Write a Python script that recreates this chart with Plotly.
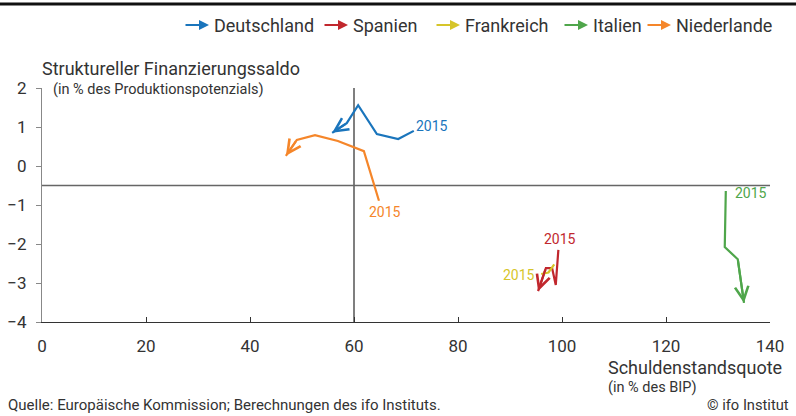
import plotly.graph_objects as go

# ---- data (debt ratio in % of GDP, structural balance in % of potential output) ----
countries = ["Deutschland", "Spanien", "Frankreich", "Italien", "Niederlande"]
colors = ["#1a75bc", "#c1272d", "#d6c52a", "#4fa64b", "#f5862a"]

de_x = [71.5, 68.5, 64.4, 60.8, 58.6, 55.8]
de_y = [0.90, 0.69, 0.82, 1.56, 1.10, 0.85]

es_x = [99.3, 98.8, 98.1, 96.9, 95.4]
es_y = [-2.15, -3.05, -2.62, -2.62, -3.21]

fr_x = [96.0, 97.4, 98.0, 98.5]
fr_y = [-2.77, -2.73, -2.62, -2.52]

it_x = [131.5, 131.3, 133.8, 135.0]
it_y = [-0.64, -2.08, -2.39, -3.51]

nl_x = [64.8, 61.9, 56.9, 52.5, 49.0, 46.9]
nl_y = [-0.89, 0.38, 0.64, 0.79, 0.67, 0.26]

series_x = [de_x, es_x, fr_x, it_x, nl_x]
series_y = [de_y, es_y, fr_y, it_y, nl_y]
start_label = "2015"

x_ticks = [0, 20, 40, 60, 80, 100, 120, 140]
y_ticks = [2, 1, 0, -1, -2, -3, -4]
debt_ref = 60
balance_ref = -0.5

FONT = "Source Sans Pro, Liberation Sans Narrow, Roboto, sans-serif"

fig = go.Figure()
annotations = []

# label offsets for the "2015" text at the first point of each series
lab = [
    dict(xanchor="left", xshift=0, yshift=5),
    dict(xanchor="center", xshift=2, yshift=11),
    dict(xanchor="right", xshift=-4, yshift=-1),
    dict(xanchor="left", xshift=7, yshift=-2),
    dict(xanchor="center", xshift=6, yshift=-11),
]

for name, col, xs, ys, lb in zip(countries, colors, series_x, series_y, lab):
    fig.add_trace(go.Scatter(x=xs, y=ys, mode="lines", name=name,
                             line=dict(color=col, width=2.2), showlegend=False,
                             hoverinfo="skip"))
    # arrow head at the last point
    annotations.append(dict(x=xs[-1], y=ys[-1], ax=xs[-2], ay=ys[-2],
                            xref="x", yref="y", axref="x", ayref="y",
                            showarrow=True, arrowhead=5, arrowsize=1.2,
                            arrowwidth=2.2, arrowcolor=col, text="", standoff=0))
    annotations.append(dict(x=xs[0], y=ys[0], xref="x", yref="y", text=start_label,
                            showarrow=False, font=dict(family=FONT, size=14, color=col),
                            yanchor="middle", **lb))

# reference lines
fig.add_shape(type="line", x0=debt_ref, x1=debt_ref, y0=y_ticks[-1], y1=y_ticks[0],
              xref="x", yref="y", line=dict(color="#555555", width=1.5), layer="below")
fig.add_shape(type="line", x0=x_ticks[0], x1=x_ticks[-1], y0=balance_ref, y1=balance_ref,
              xref="x", yref="y", line=dict(color="#666666", width=1.5), layer="below")

# plot area in pixels
L, R, T, B = 42, 770, 88, 322
W, H = 796, 416


def px(xp):
    return (xp - L) / (R - L)


def py(yp):
    return (B - yp) / (B - T)


# top border line
fig.add_shape(type="line", xref="paper", yref="paper", x0=px(0), x1=px(W),
              y0=py(4), y1=py(4), line=dict(color="#111111", width=3))

# legend built from annotations
leg_tip = [209, 348, 460, 588, 671]
for name, col, tip in zip(countries, colors, leg_tip):
    annotations.append(dict(x=px(tip), y=py(25), xref="paper", yref="paper",
                            ax=-25, ay=0, showarrow=True, arrowhead=2, arrowsize=1,
                            arrowwidth=2, arrowcolor=col, text="", standoff=0))
    annotations.append(dict(x=px(tip + 3), y=py(25), xref="paper", yref="paper",
                            text=name, showarrow=False, xanchor="left", yanchor="middle",
                            font=dict(family=FONT, size=18, color="#333333")))

txt = "#333333"
annotations += [
    dict(x=px(40), y=py(68), xref="paper", yref="paper", text="Struktureller Finanzierungssaldo",
         showarrow=False, xanchor="left", yanchor="middle", font=dict(family=FONT, size=18, color=txt)),
    dict(x=px(51), y=py(89), xref="paper", yref="paper", text="(in % des Produktionspotenzials)",
         showarrow=False, xanchor="left", yanchor="middle", font=dict(family=FONT, size=14.5, color=txt)),
    dict(x=px(784), y=py(367), xref="paper", yref="paper", text="Schuldenstandsquote",
         showarrow=False, xanchor="right", yanchor="middle", font=dict(family=FONT, size=18, color=txt)),
    dict(x=px(606), y=py(387), xref="paper", yref="paper", text="(in % des BIP)",
         showarrow=False, xanchor="left", yanchor="middle", font=dict(family=FONT, size=14.5, color=txt)),
    dict(x=px(6), y=py(405), xref="paper", yref="paper",
         text="Quelle: Europäische Kommission; Berechnungen des ifo Instituts.",
         showarrow=False, xanchor="left", yanchor="middle", font=dict(family=FONT, size=15, color=txt)),
    dict(x=px(791), y=py(405), xref="paper", yref="paper", text="© ifo Institut",
         showarrow=False, xanchor="right", yanchor="middle", font=dict(family=FONT, size=14.7, color=txt)),
]

fig.update_layout(
    width=W, height=H, autosize=False,
    margin=dict(l=L, r=W - R, t=T, b=H - B, pad=0, autoexpand=False),
    paper_bgcolor="white", plot_bgcolor="white",
    showlegend=False,
    annotations=annotations,
    font=dict(family=FONT, color=txt),
    xaxis=dict(range=[x_ticks[0], x_ticks[-1]], tickvals=x_ticks, showgrid=False, zeroline=False,
               showline=True, linecolor="#333333", linewidth=1.3, ticks="inside", ticklen=5,
               tickcolor="#333333", tickfont=dict(family=FONT, size=17, color=txt),
               ticklabelstandoff=8, automargin=False),
    yaxis=dict(range=[y_ticks[-1], y_ticks[0]], tickvals=y_ticks, showgrid=False, zeroline=False,
               showline=True, linecolor="#888888", linewidth=1.3, ticks="outside", ticklen=5,
               tickcolor="#888888", tickfont=dict(family=FONT, size=17, color=txt),
               ticklabelstandoff=6, automargin=False),
)

fig.write_html("out.html",
               config={"displayModeBar": False},
               post_script="document.body.style.margin='0';document.body.style.padding='0';"
                           "document.body.style.overflow='hidden';")
